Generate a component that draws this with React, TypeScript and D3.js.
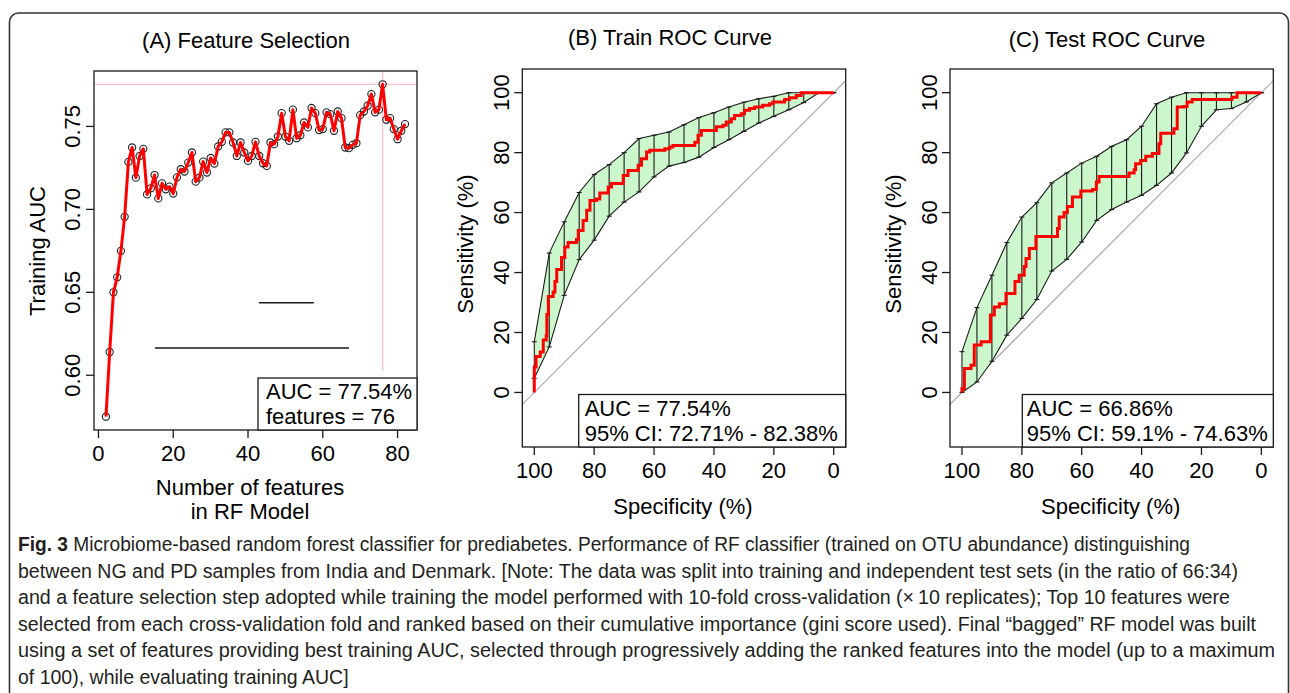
import React from 'react';
import * as d3 from 'd3';

// ---- (A) feature selection ----
const featureCounts = [
  2, 3, 4, 5, 6, 7, 8, 9, 10, 11, 12, 13, 14, 15, 16, 17, 18, 19, 20, 21,
  22, 23, 24, 25, 26, 27, 28, 29, 30, 31, 32, 33, 34, 35, 36, 37, 38, 39, 40, 41,
  42, 43, 44, 45, 46, 47, 48, 49, 50, 51, 52, 53, 54, 55, 56, 57, 58, 59, 60, 61,
  62, 63, 64, 65, 66, 67, 68, 69, 70, 71, 72, 73, 74, 75, 76, 77, 78, 79, 80, 81, 82,
];
const trainingAuc = [
  0.575, 0.614, 0.650, 0.659, 0.675, 0.6955, 0.7286, 0.7373, 0.7191, 0.7322,
  0.7365, 0.709, 0.7127, 0.7207, 0.7066, 0.7157, 0.7121, 0.7137, 0.7095, 0.7193,
  0.7242, 0.7228, 0.7282, 0.7343, 0.7167, 0.7191, 0.7288, 0.7222, 0.731, 0.7276,
  0.7379, 0.7407, 0.7464, 0.7464, 0.7403, 0.7322, 0.7403, 0.7343, 0.7292, 0.7322,
  0.7407, 0.7322, 0.7278, 0.7262, 0.7403, 0.7393, 0.7439, 0.758, 0.7439, 0.7413,
  0.7601, 0.7429, 0.7447, 0.7524, 0.7494, 0.7611, 0.758, 0.7478, 0.7484, 0.7585,
  0.7574, 0.7474, 0.759, 0.755, 0.7373, 0.7369, 0.7389, 0.7399, 0.7568, 0.759,
  0.7625, 0.7695, 0.7585, 0.7601, 0.7754, 0.754, 0.755, 0.7484, 0.7423, 0.7474, 0.7514,
];
const bestFeatures = 76;
const strayFrom = [42.9, 15.1];
const strayTo = [57.6, 67.0];
const strayAuc = [0.6437, 0.6164];
const aucTicks = [0.6, 0.65, 0.7, 0.75];
const featureTicks = [0, 20, 40, 60, 80];

// ---- (B) / (C) ROC curves ----
const ciSpec = [100, 95, 90, 85, 80, 75, 70, 65, 60, 55, 50, 45, 40, 35, 30, 25, 20, 15, 10, 5, 0];
const trainCiUpper = [16.9, 46.5, 56.9, 66.7, 72.7, 76, 80, 84.7, 85.8, 86.9, 89.3, 91.7, 93.3, 95.2, 96.8, 98, 98.8, 100, 100, 100, 100];
const trainCiLower = [4.7, 15.2, 32.4, 44.3, 50.8, 58.8, 63.5, 66.9, 71.9, 75.5, 76.7, 78.5, 81.7, 84.3, 87.1, 89.9, 92.1, 94.3, 96.7, 100, 100];
const testCiUpper = [13.6, 28.3, 39.1, 50, 58.5, 63.3, 69.9, 73.2, 76.5, 78.8, 82.1, 84.3, 88.8, 96.3, 98.5, 100, 100, 100, 100, 100, 100];
const testCiLower = [0, 3.5, 10.4, 19.1, 24.7, 31, 40.5, 44.4, 50.2, 57.4, 61, 63.5, 65.8, 69.1, 73.2, 79.9, 88.8, 94.3, 94.7, 96.9, 100];

const trainRocSpec = [
  100, 100, 99.4, 98, 97, 96, 95.8, 95.3, 93.7, 93.1, 92.5, 90.9, 89.8, 88.7, 85.9, 85.3, 83.7,
  82.5, 81.4, 79.2, 78.1, 75.3, 74.2, 70.3, 68.7, 65.3, 64.2, 62.5, 61.4, 56.4, 54.8, 53.7, 46.4,
  45.3, 44.2, 39.2, 37, 35.9, 34.2, 33.1, 30.9, 29.8, 28.1, 26.4, 23.7, 21.4, 20.3, 16.4, 14.8,
  12.5, 10.9, 0,
];
const trainRocSens = [
  0, 8.5, 12, 13.5, 17.5, 19, 26, 32, 33.5, 37, 41, 45, 48.5, 50, 51, 54, 57.4,
  60.8, 64, 64.5, 66.5, 68.5, 69.7, 72.4, 74, 75.8, 78, 80.2, 80.8, 81.3, 81.9, 82.4, 83.5,
  85.8, 87.4, 88.6, 89.1, 90.2, 91.3, 92.4, 93, 94.1, 94.7, 95.2, 95.8, 96.3, 96.9, 97.7, 98.3,
  99.1, 100, 100,
];
const testRocSpec = [
  100, 100, 99.2, 97, 95.9, 93.6, 90.5, 89.2, 87.5, 85.3, 82.3, 80.9, 79.2, 78.6, 77.5, 75.3,
  68.1, 67.5, 65.9, 64.8, 63.1, 60.3, 56.4, 55.1, 54.2, 44.2, 42.5, 42, 40.3, 38.6, 36.4, 34.2,
  33.6, 29.2, 28.1, 25.9, 24.8, 23.1, 9.8, 8.1, 0,
];
const testRocSens = [
  0, 1.3, 8, 9.1, 15.8, 16.9, 25.8, 28.5, 29.6, 33, 37, 39.1, 42, 44.7, 48, 52,
  54.7, 58.5, 60, 62, 65.2, 67.2, 67.7, 70.2, 72, 73.2, 74.3, 76.3, 77.4, 78.8, 79.7, 83,
  86.5, 88, 95.2, 95.4, 96.9, 97.7, 98.5, 100, 100,
];
const pctTicks = [0, 20, 40, 60, 80, 100];

const captionLines = [
  'between NG and PD samples from India and Denmark. [Note: The data was split into training and independent test sets (in the ratio of 66:34)',
  'and a feature selection step adopted while training the model performed with 10-fold cross-validation (\u00d7\u200910 replicates); Top 10 features were',
  'selected from each cross-validation fold and ranked based on their cumulative importance (gini score used). Final \u201cbagged\u201d RF model was built',
  'using a set of features providing best training AUC, selected through progressively adding the ranked features into the model (up to a maximum',
  'of 100), while evaluating training AUC]',
];
// measured line widths in the reference (the last line is left at its natural width)
const captionWidths = [1172, 1220, 1212, 1238, 1257, null];

const FONT = '"Liberation Sans", Arial, Helvetica, sans-serif';
const INK = '#1a1a1a';

function padExtent(vals) {
  const [lo, hi] = d3.extent(vals);
  const p = (hi - lo) * 0.04;
  return [lo - p, hi + p];
}

function FeaturePanel() {
  const box = { x0: 94, x1: 417, y0: 71, y1: 430 };
  const x = d3.scaleLinear().domain(padExtent(featureCounts)).range([box.x0, box.x1]);
  const y = d3.scaleLinear().domain(padExtent(trainingAuc)).range([box.y1, box.y0]);
  const pts = featureCounts.map((f, i) => [f, trainingAuc[i]]);
  const line = d3.line().x(d => x(d[0])).y(d => y(d[1]));
  const best = d3.max(trainingAuc);
  const leg = { x: 258, y: 378 };

  return (
    <g fontFamily={FONT} fill="#000">
      <text x={246} y={48} fontSize={22} textAnchor="middle">(A) Feature Selection</text>
      <line x1={box.x0} x2={box.x1} y1={y(best)} y2={y(best)} stroke="pink" strokeWidth={1.3} />
      <line x1={x(bestFeatures)} x2={x(bestFeatures)} y1={box.y0} y2={leg.y - 7} stroke="pink" strokeWidth={1.3} />
      {strayAuc.map((a, i) => (
        <line key={i} x1={x(strayFrom[i])} x2={x(strayTo[i])} y1={y(a)} y2={y(a)} stroke={INK} strokeWidth={1.4} />
      ))}
      {pts.map((d, i) => (
        <circle key={i} cx={x(d[0])} cy={y(d[1])} r={3.6} fill="none" stroke="#222" strokeWidth={1.1} />
      ))}
      <path d={line(pts)} fill="none" stroke="#ff0000" strokeWidth={3} strokeLinejoin="round" />
      <rect x={box.x0} y={box.y0} width={box.x1 - box.x0} height={box.y1 - box.y0} fill="none" stroke={INK} strokeWidth={1.3} />
      {featureTicks.map(t => (
        <g key={t}>
          <line x1={x(t)} x2={x(t)} y1={box.y1} y2={box.y1 + 8} stroke={INK} strokeWidth={1.3} />
          <text x={x(t)} y={box.y1 + 31} fontSize={22} textAnchor="middle">{t}</text>
        </g>
      ))}
      {aucTicks.map(t => (
        <g key={t}>
          <line x1={box.x0 - 8} x2={box.x0} y1={y(t)} y2={y(t)} stroke={INK} strokeWidth={1.3} />
          <text transform={`translate(${box.x0 - 14},${y(t)}) rotate(-90)`} fontSize={22} textAnchor="middle">{d3.format('.2f')(t)}</text>
        </g>
      ))}
      <text transform={`translate(45,251) rotate(-90)`} fontSize={22} textAnchor="middle">Training AUC</text>
      <text x={250} y={box.y1 + 65} fontSize={22} textAnchor="middle">Number of features</text>
      <text x={250} y={box.y1 + 89} fontSize={22} textAnchor="middle">in RF Model</text>
      <rect x={leg.x} y={leg.y} width={box.x1 - leg.x} height={box.y1 - leg.y} fill="#fff" stroke={INK} strokeWidth={1.3} />
      <text x={leg.x + 8} y={leg.y + 21} fontSize={22}>AUC = {d3.format('.2f')(best * 100)}%</text>
      <text x={leg.x + 8} y={leg.y + 46} fontSize={22}>features = {bestFeatures}</text>
    </g>
  );
}

function RocPanel({ id, box, title, titleX, titleY, spec, sens, upper, lower, auc, ci, legendWidth, textPad }) {
  const x = d3.scaleLinear().domain([104, -4]).range([box.x0, box.x1]);
  const y = d3.scaleLinear().domain([-18.2, 107.9]).range([box.y1, box.y0]);
  const band = ciSpec.map((s, i) => ({ s, lo: lower[i], hi: upper[i] }));
  const area = d3.area().x(d => x(d.s)).y0(d => y(d.lo)).y1(d => y(d.hi));
  const upLine = d3.line().x(d => x(d.s)).y(d => y(d.hi));
  const loLine = d3.line().x(d => x(d.s)).y(d => y(d.lo));
  const roc = spec.map((s, i) => [s, sens[i]]);
  const rocLine = d3.line().curve(d3.curveStepAfter).x(d => x(d[0])).y(d => y(d[1]));
  const [dLeft, dRight] = x.domain();
  const legX = box.x1 - legendWidth;
  const legY = box.y1 - 52.5;
  const cx = (box.x0 + box.x1) / 2;

  return (
    <g fontFamily={FONT} fill="#000">
      <defs>
        <clipPath id={`clip-${id}`}>
          <rect x={box.x0} y={box.y0} width={box.x1 - box.x0} height={box.y1 - box.y0} />
        </clipPath>
      </defs>
      <text x={titleX} y={titleY} fontSize={22} textAnchor="middle">{title}</text>
      <g clipPath={`url(#clip-${id})`}>
        <line x1={x(dLeft)} y1={y(100 - dLeft)} x2={x(dRight)} y2={y(100 - dRight)} stroke="#a8a8a8" strokeWidth={1.2} />
      </g>
      <path d={area(band)} fill="#ccf7cc" stroke="none" />
      <path d={upLine(band)} fill="none" stroke={INK} strokeWidth={1.1} />
      <path d={loLine(band)} fill="none" stroke={INK} strokeWidth={1.1} />
      {band.map((d, i) => (
        <g key={i} stroke={INK} strokeWidth={1.1}>
          <line x1={x(d.s)} x2={x(d.s)} y1={y(d.lo)} y2={y(d.hi)} />
          <line x1={x(d.s) - 2.5} x2={x(d.s) + 2.5} y1={y(d.lo)} y2={y(d.lo)} />
          <line x1={x(d.s) - 2.5} x2={x(d.s) + 2.5} y1={y(d.hi)} y2={y(d.hi)} />
        </g>
      ))}
      <path d={rocLine(roc)} fill="none" stroke="#ff0000" strokeWidth={3} />
      <rect x={box.x0} y={box.y0} width={box.x1 - box.x0} height={box.y1 - box.y0} fill="none" stroke={INK} strokeWidth={1.3} />
      {pctTicks.map(t => (
        <g key={t}>
          <line x1={x(t)} x2={x(t)} y1={box.y1} y2={box.y1 + 8} stroke={INK} strokeWidth={1.3} />
          <text x={x(t)} y={box.y1 + 31} fontSize={22} textAnchor="middle">{t}</text>
          <line x1={box.x0 - 8} x2={box.x0} y1={y(t)} y2={y(t)} stroke={INK} strokeWidth={1.3} />
          <text transform={`translate(${box.x0 - 13.5},${y(t)}) rotate(-90)`} fontSize={22} textAnchor="middle">{t}</text>
        </g>
      ))}
      <text transform={`translate(${box.x0 - 49},244) rotate(-90)`} fontSize={22} textAnchor="middle">Sensitivity (%)</text>
      <text x={cx - 1} y={box.y1 + 67} fontSize={22} textAnchor="middle">Specificity (%)</text>
      <rect x={legX} y={legY} width={legendWidth} height={box.y1 - legY} fill="#fff" stroke={INK} strokeWidth={1.3} />
      <text x={legX + textPad} y={legY + 21} fontSize={22}>{auc}</text>
      <text x={legX + textPad} y={legY + 46} fontSize={22}>{ci}</text>
    </g>
  );
}

export default function App() {
  const widthProps = i =>
    captionWidths[i] ? { textLength: captionWidths[i], lengthAdjust: 'spacingAndGlyphs' } : {};
  return (
    <svg width={1290} height={693} style={{ position: 'absolute', left: 0, top: 0, background: '#fff' }}>
      <rect x={0} y={0} width={1290} height={693} fill="#fff" />
      <rect x={9.5} y={13} width={1279} height={740} rx={9} fill="none" stroke="#333" strokeWidth={1.6} />
      <FeaturePanel />
      <RocPanel
        id="train" box={{ x0: 522.3, x1: 845.7, y0: 69, y1: 447 }}
        title="(B) Train ROC Curve" titleX={670} titleY={45}
        spec={trainRocSpec} sens={trainRocSens} upper={trainCiUpper} lower={trainCiLower}
        auc="AUC = 77.54%" ci="95% CI: 72.71% - 82.38%" legendWidth={267} textPad={6}
      />
      <RocPanel
        id="test" box={{ x0: 950, x1: 1273.3, y0: 69, y1: 447 }}
        title="(C) Test ROC Curve" titleX={1107} titleY={46.5}
        spec={testRocSpec} sens={testRocSens} upper={testCiUpper} lower={testCiLower}
        auc="AUC = 66.86%" ci="95% CI: 59.1% - 74.63%" legendWidth={251} textPad={4.5}
      />
      <g fontFamily={FONT} fontSize={19.5} fill="#231f20">
        <text x={18} y={551} {...widthProps(0)}>
          <tspan fontWeight="bold">Fig. 3</tspan> Microbiome-based random forest classifier for prediabetes. Performance of RF classifier (trained on OTU abundance) distinguishing
        </text>
        {captionLines.map((t, i) => (
          <text key={i} x={18} y={551 + (i + 1) * 26.5} {...widthProps(i + 1)}>{t}</text>
        ))}
      </g>
    </svg>
  );
}
